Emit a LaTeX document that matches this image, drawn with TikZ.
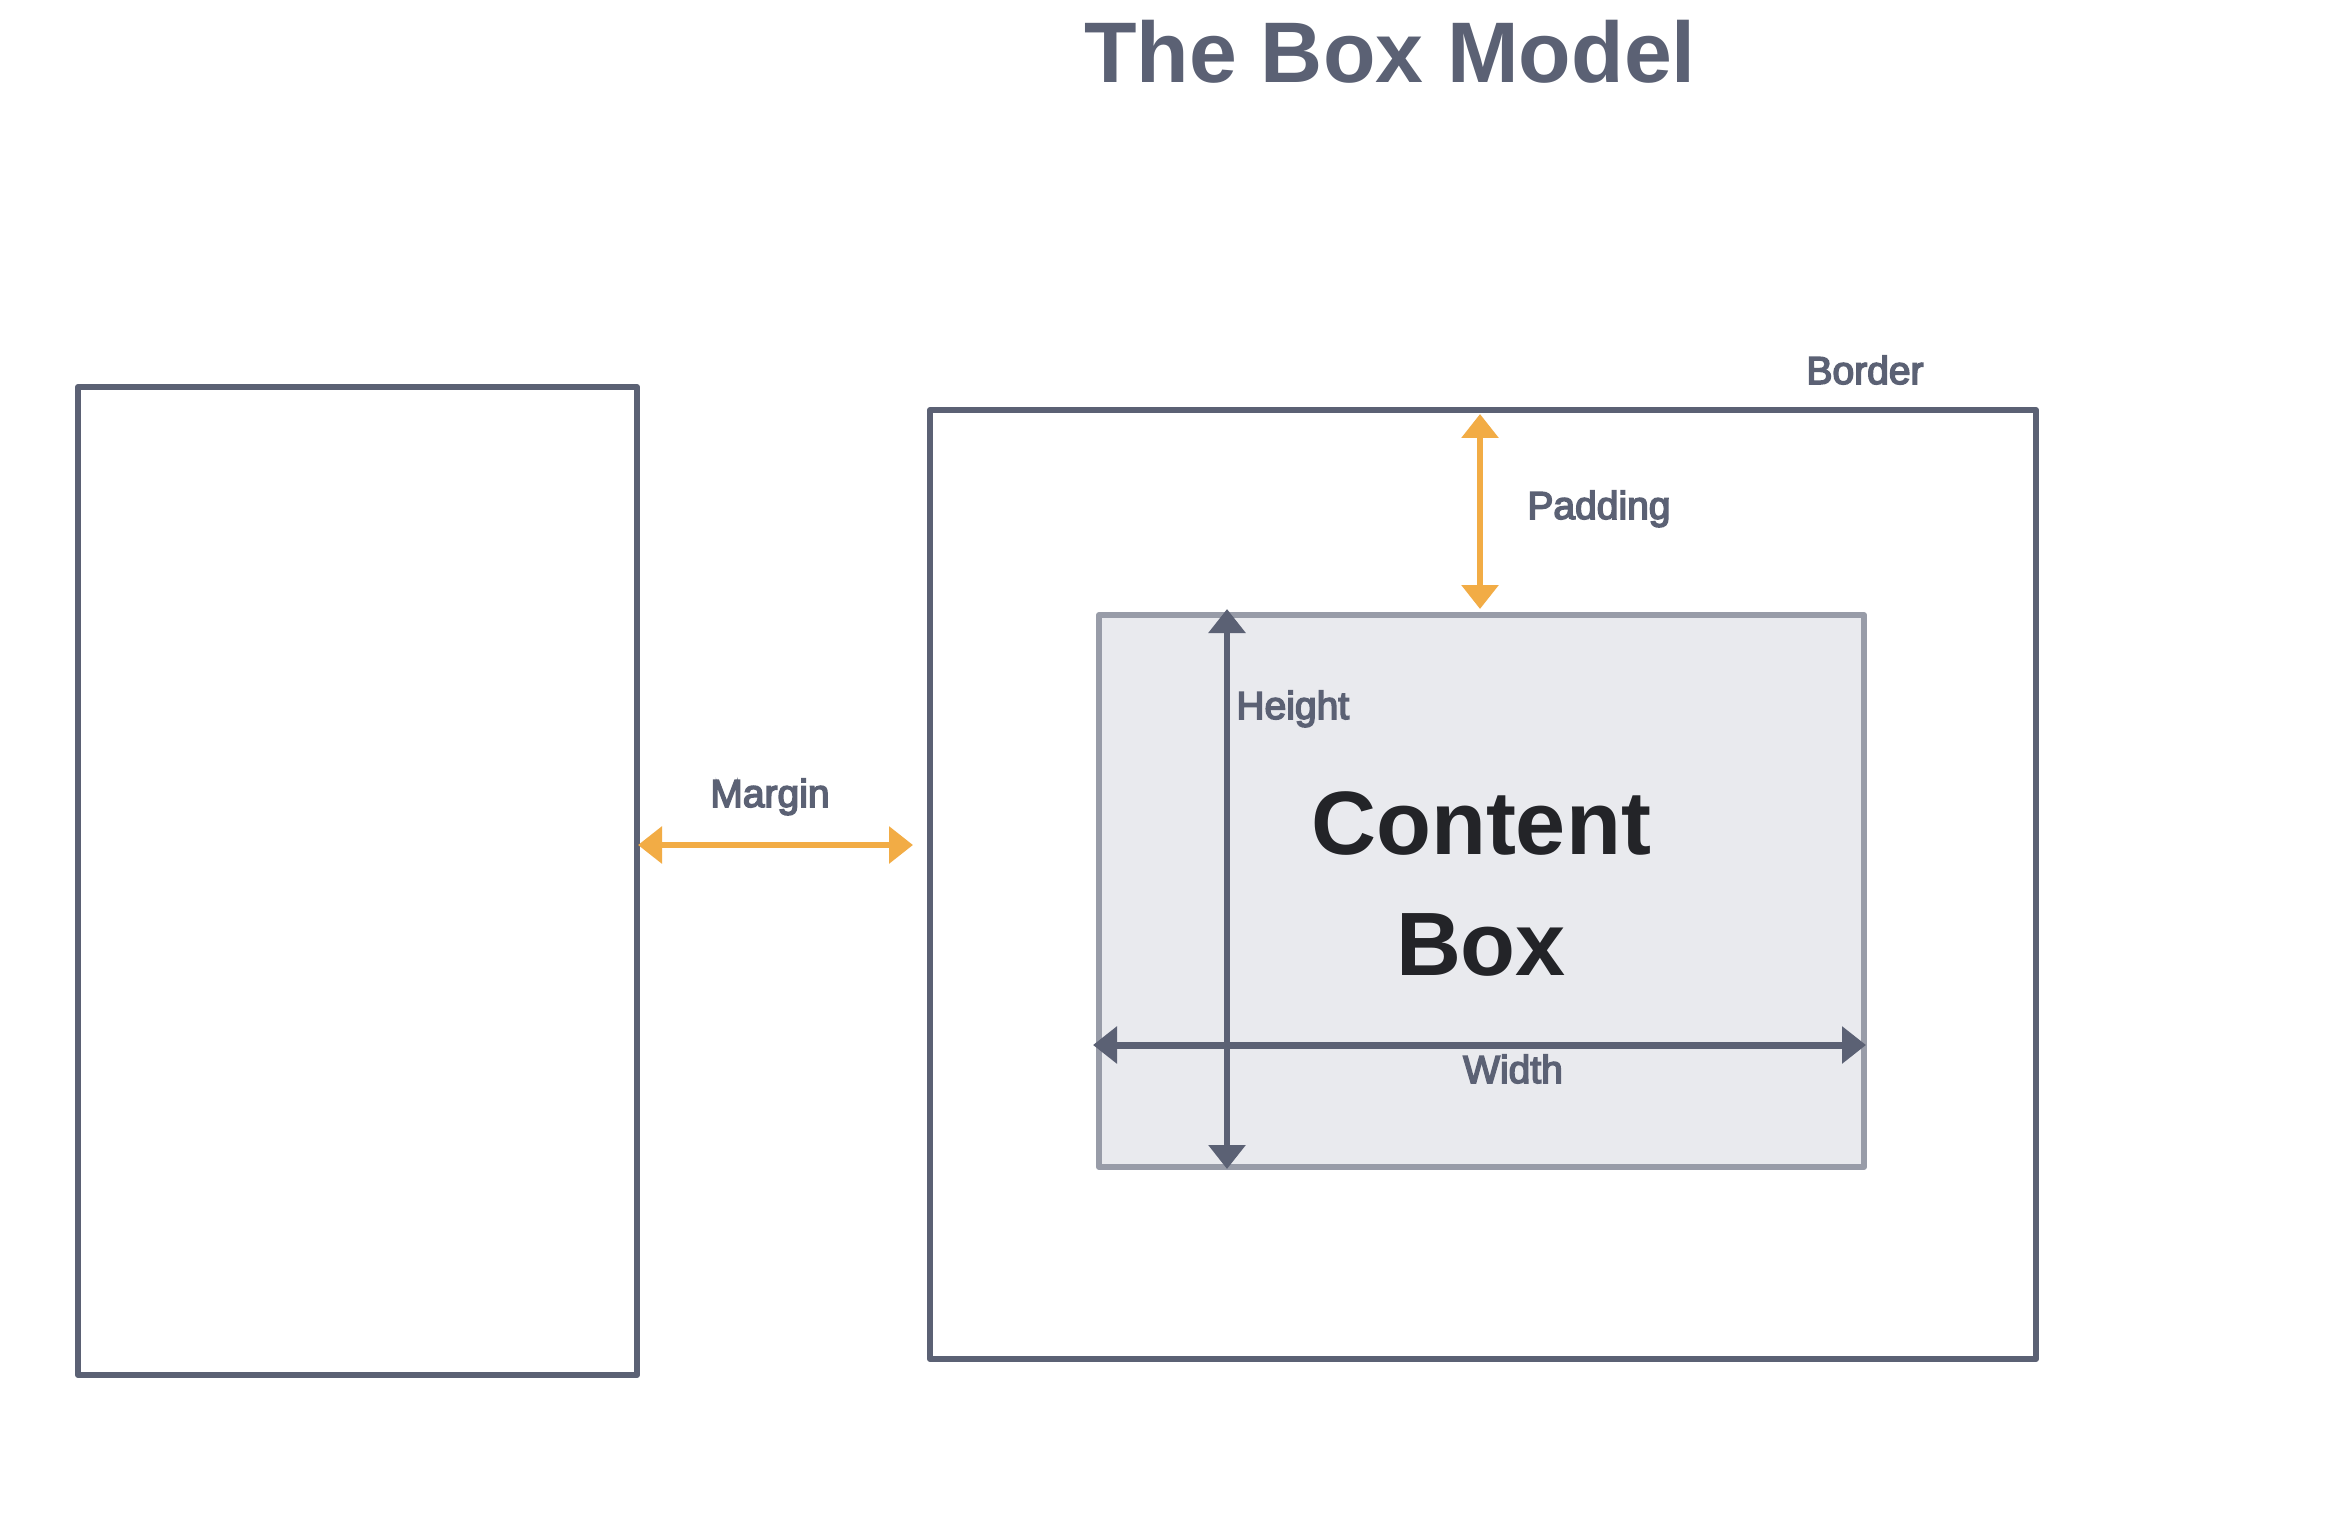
\documentclass[tikz,border=0pt]{standalone}
\usepackage{fontspec}
\setmainfont{Liberation Sans}
\newfontfamily\lblfont[FakeBold=4]{Liberation Sans}
\usetikzlibrary{arrows.meta}
\definecolor{slate}{HTML}{5B6174}
\definecolor{orng}{HTML}{F2AC45}
\definecolor{cfill}{HTML}{E9EAEE}
\definecolor{cedge}{HTML}{989CA8}
\definecolor{ink}{HTML}{232428}
\begin{document}
\begin{tikzpicture}[x=0.5pt,y=-0.5pt,
  outerbox/.style={draw=slate,line width=3pt,inner sep=0pt,anchor=north west,line join=round},
  contentbox/.style={draw=cedge,fill=cfill,line width=3pt,inner sep=0pt,anchor=north west,line join=round},
  lbl/.style={inner sep=0pt,text=slate,font=\lblfont\fontsize{19.5}{23}\selectfont},
  orangearrow/.style={draw=orng,line width=3pt,{Triangle[length=12pt,width=18pt]}-{Triangle[length=12pt,width=18pt]}},
  slatearrow/.style={draw=slate,line width=3pt,{Triangle[length=12pt,width=18pt]}-{Triangle[length=12pt,width=18pt]}}
]
\useasboundingbox[fill=white] (0,0) rectangle (2348,1518);

% title
\node[inner sep=0pt,anchor=base,text=slate,font=\bfseries\fontsize{43}{50}\selectfont] (title) at (1390,83) {The Box Model};

% boxes
\node[outerbox,minimum width=279.5pt,minimum height=494pt] (leftbox) at (75,384) {};
\node[outerbox,minimum width=553pt,minimum height=474.5pt] (rightbox) at (927,407) {};
\node[contentbox,minimum width=382.5pt,minimum height=276pt] (content) at (1096,612) {};

% content text
\node[inner sep=0pt,align=center,text=ink,font=\bfseries\fontsize{45}{60.5}\selectfont] (contenttext) at (1481,884) {Content\\Box};

% labels
\node[lbl,anchor=base] (borderlbl) at (1865,384) {Border};
\node[lbl,anchor=base west] (paddinglbl) at (1527,519) {Padding};
\node[lbl,anchor=base] (marginlbl) at (770,807) {Margin};
\node[lbl,anchor=base west] (heightlbl) at (1236,719) {Height};
\node[lbl,anchor=base] (widthlbl) at (1513,1083) {Width};

% arrow end points
\coordinate (ma) at (638,845);
\coordinate (mb) at (913,845);
\coordinate (pa) at (1480,414);
\coordinate (pb) at (1480,609);
\coordinate (ha) at (1227,609);
\coordinate (hb) at (1227,1169);
\coordinate (wa) at (1093,1045);
\coordinate (wb) at (1866,1045);

\draw[orangearrow] (ma) -- (mb);
\draw[orangearrow] (pa) -- (pb);
\draw[slatearrow] (ha) -- (hb);
\draw[slatearrow,line width=3.5pt] (wa) -- (wb);
\end{tikzpicture}
\end{document}
